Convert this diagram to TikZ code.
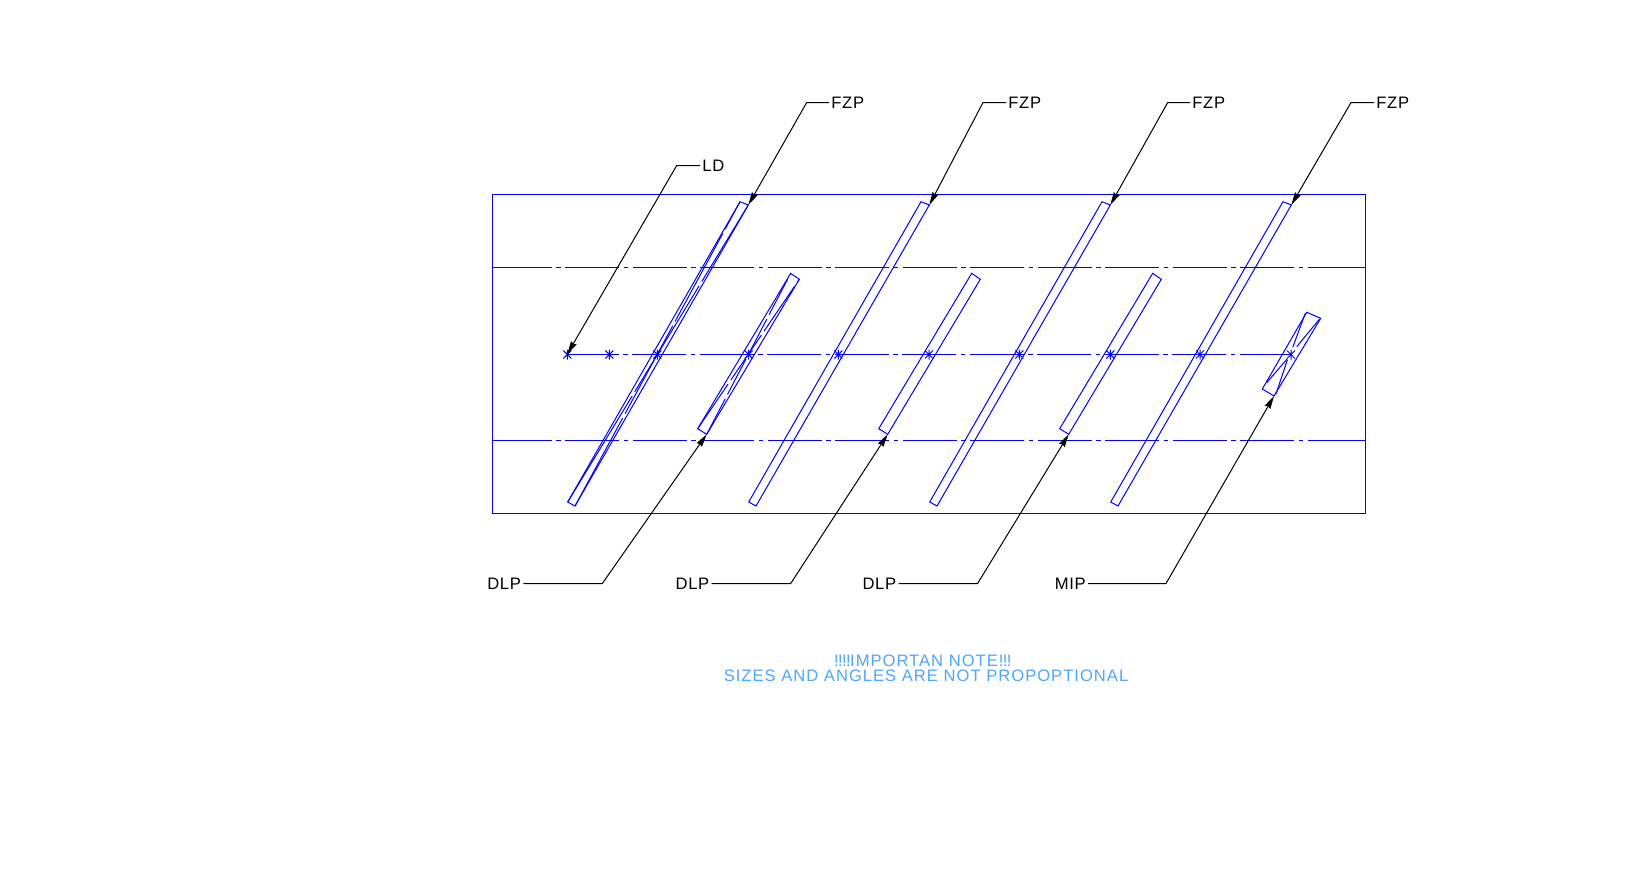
\documentclass[tikz,border=0pt]{standalone}
\usepackage{fontspec}
\setmainfont{Liberation Sans}
\newfontfamily\notefont[LetterSpace=6]{Liberation Sans}
\newfontfamily\tagfont[LetterSpace=4]{Liberation Sans}
\newcommand{\bang}{!\kern-.3pt}
\usetikzlibrary{arrows.meta}
\definecolor{partblue}{RGB}{0,0,255}
\definecolor{noteblue}{RGB}{77,166,255}
\tikzset{
  part/.style={draw=partblue, line width=0.5pt},
  frame/.style={draw=partblue, line width=0.6pt},
  centre/.style={draw=partblue, line width=0.6pt, dash pattern=on 27pt off 2.25pt on 2.25pt off 2.25pt},
  leader/.style={draw=black, line width=0.5pt, -{Stealth[length=6.5pt,width=3.2pt,inset=0.6pt]}},
  tag/.style={font=\tagfont\fontsize{8.3}{10}\selectfont, inner sep=1pt},
  note/.style={font=\notefont\fontsize{8.3}{7.6}\selectfont, text=noteblue, align=center, inner sep=0pt}
}
\begin{document}
\begin{tikzpicture}[x=0.5pt, y=-0.5pt]
  \useasboundingbox (0,0) rectangle (1631,884);
  \draw[frame] (492.5,194.5) rectangle (1365.5,513.5);
  \foreach \y in {267.5,440.5} {
    \draw[frame] (492.5,\y) -- (497.5,\y);
    \draw[centre] (497.5,\y) -- (1361,\y);
    \draw[frame] (1361,\y) -- (1365.5,\y);
  }
  \draw[centre, dash phase=1.4pt] (567.3,354.5) -- (1291,354.5);
  \foreach \sx in {567.3,609.3,657.3,748.7,838.3,929,1019.3,1110.3,1200,1291}
    \draw[part, shift={(\sx,354.5)}] (-4,-4) -- (4,4) (-4,4) -- (4,-4) (0,-5) -- (0,5);

  \foreach \i in {0,1,2,3}
    \draw[part, xshift=\i*90.5pt] (740,201.7) -- (748.3,205) -- (575,506) -- (567.7,502) -- cycle;
  \foreach \i in {0,1,2}
    \draw[part, xshift=\i*90.5pt] (790.7,273.3) -- (799.3,279.3) -- (706.7,434.3) -- (697.7,428.7) -- cycle;
  \draw[part] (1306.7,312.3) -- (1320.7,318.3) -- (1274,396) -- (1262.3,389) -- cycle;

  \draw[part, dash pattern=on 50pt off 2.5pt] (575,506) -- (740,201.7);
  \draw[part, dash pattern=on 62pt off 2.5pt] (567.7,502) -- (748.3,205);
  \draw[part, dash pattern=on 20pt off 2.5pt] (706.7,434.3) -- (790.7,273.3);
  \draw[part, dash pattern=on 27pt off 2.5pt] (697.7,428.7) -- (799.3,279.3);
  \draw[part] (1266.7,382.7) -- (1287.3,358.7) (1296.7,346.7) -- (1319.3,319.3);
  \draw[part] (1276,394) -- (1287.3,360) (1292.7,347.3) -- (1305.3,313.3);

  \node[tag, anchor=west] (ld) at (700,165.5) {LD};
  \node[tag, anchor=west] (fzpa) at (829,102.5) {FZP};
  \node[tag, anchor=west] (fzpb) at (1006,102.5) {FZP};
  \node[tag, anchor=west] (fzpc) at (1190,102.5) {FZP};
  \node[tag, anchor=west] (fzpd) at (1374,102.5) {FZP};
  \node[tag, anchor=east] (dlpa) at (523.3,583.5) {DLP};
  \node[tag, anchor=east] (dlpb) at (711.7,583.5) {DLP};
  \node[tag, anchor=east] (dlpc) at (898.6,583.5) {DLP};
  \node[tag, anchor=east] (mip) at (1088,583.5) {MIP};

  \coordinate (kneeld) at (676.7,165.5);
  \coordinate (kneefzpa) at (806.7,102.5);
  \coordinate (kneefzpb) at (983,102.5);
  \coordinate (kneefzpc) at (1167.7,102.5);
  \coordinate (kneefzpd) at (1351,102.5);
  \coordinate (kneedlpa) at (602.3,583.5);
  \coordinate (kneedlpb) at (790.7,583.5);
  \coordinate (kneedlpc) at (977.6,583.5);
  \coordinate (kneemip) at (1166,583.5);

  \coordinate (tipld) at (567.3,354);
  \coordinate (tipfzpa) at (748.3,205);
  \coordinate (tipfzpb) at (929.3,205);
  \coordinate (tipfzpc) at (1110.3,205);
  \coordinate (tipfzpd) at (1291.3,205);
  \coordinate (tipdlpa) at (706.7,434.3);
  \coordinate (tipdlpb) at (887.7,434.3);
  \coordinate (tipdlpc) at (1068.7,434.3);
  \coordinate (tipmip) at (1274,396);

  \foreach \n in {ld,fzpa,fzpb,fzpc,fzpd}
    \draw[leader] (\n.west) -- (knee\n) -- (tip\n);
  \foreach \n in {dlpa,dlpb,dlpc,mip}
    \draw[leader] (\n.east) -- (knee\n) -- (tip\n);

  \node[note] (warning) at (926,668) {\bang\bang\bang\bang IMPORTAN NOTE\bang\bang\bang\hspace*{3.5pt}\\SIZES AND ANGLES ARE NOT PROPOPTIONAL};
\end{tikzpicture}
\end{document}
